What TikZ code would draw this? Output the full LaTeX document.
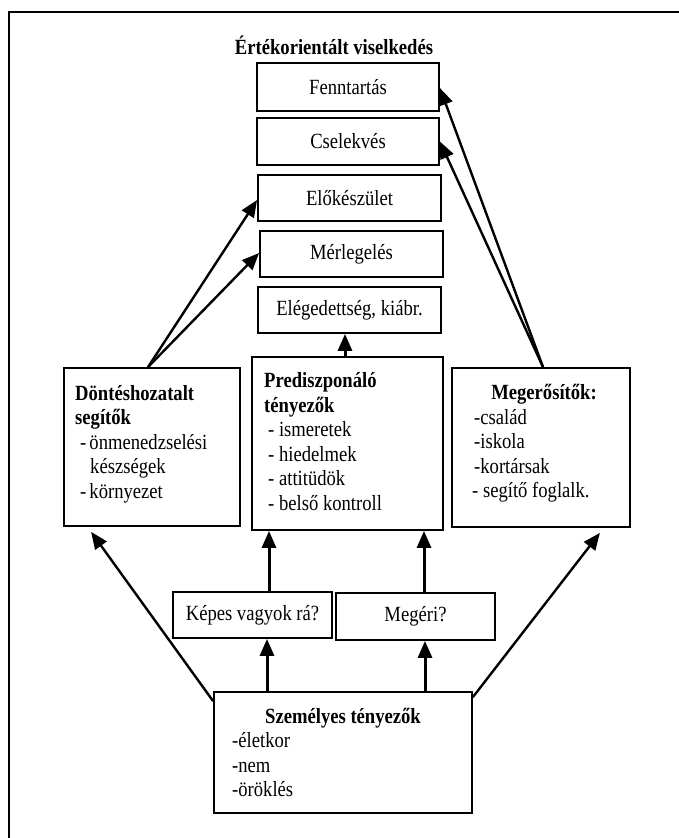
\documentclass[tikz,border=0pt]{standalone}
\usepackage{fontspec}
\usepackage{graphicx}
\setmainfont{Liberation Serif}
\usetikzlibrary{arrows.meta}
\newcommand{\tallt}[1]{\scalebox{0.98}[1.14]{#1}}
\begin{document}
\begin{tikzpicture}[x=1pt,y=-1pt,
  every node/.style={font=\fontsize{19}{24.5}\selectfont},
  bx/.style={draw,line width=1.8pt,inner sep=0pt},
  txt/.style={anchor=base west,inner sep=0pt},
  bld/.style={font=\fontsize{19}{24.5}\selectfont\bfseries},
  arr/.style={line width=3pt,-{Triangle[length=17pt,width=14pt]}},
  darr/.style={line width=2.4pt,-{Triangle[length=17pt,width=14pt]}}]
\useasboundingbox (0,0) rectangle (679,838);
\draw[line width=2pt] (9,838) -- (9,12) -- (679,12);

\node[inner sep=0pt,bld] (title) at (334,45) {\tallt{Értékorientált viselkedés}};

\node[bx,minimum width=182pt,minimum height=48pt] (fen) at (348,87) {\tallt{Fenntartás}};
\node[bx,minimum width=182pt,minimum height=47pt] (csel) at (348,141.5) {\tallt{Cselekvés}};
\node[bx,minimum width=183pt,minimum height=46pt] (elo) at (349.5,198) {\tallt{Előkészület}};
\node[bx,minimum width=183pt,minimum height=46pt] (mer) at (351.5,254) {\tallt{Mérlegelés}};
\node[bx,minimum width=183pt,minimum height=46pt] (eleg) at (349.5,310) {\tallt{Elégedettség, kiábr.}};

\node[bx,minimum width=176pt,minimum height=158pt] (dont) at (152,447) {};
\node[bx,minimum width=191pt,minimum height=173pt] (pred) at (347.5,443.5) {};
\node[bx,minimum width=178pt,minimum height=159pt] (meg) at (541,447.5) {};

\node[bx,minimum width=159pt,minimum height=46pt] (kep) at (252.5,615) {\tallt{Képes vagyok rá?}};
\node[bx,minimum width=159pt,minimum height=47pt] (megeri) at (415.5,616.5) {\tallt{Megéri?}};
\node[bx,minimum width=258pt,minimum height=121pt] (szem) at (343,752.5) {};

% texts in Döntéshozatalt box
\node[txt,bld] (d1) at (75,400) {\tallt{Döntéshozatalt}};
\node[txt,bld] (d2) at (75,424.5) {\tallt{segítők}};
\node[txt] (d3) at (80,449) {\tallt{-\,önmenedzselési}};
\node[txt] (d4) at (90,473.5) {\tallt{készségek}};
\node[txt] (d5) at (80,498) {\tallt{-\,környezet}};

% texts in Prediszponáló box
\node[txt,bld] (p1) at (264,387.5) {\tallt{Prediszponáló}};
\node[txt,bld] (p2) at (264,412) {\tallt{tényezők}};
\node[txt] (p3) at (268,436.5) {\tallt{- ismeretek}};
\node[txt] (p4) at (268,461) {\tallt{- hiedelmek}};
\node[txt] (p5) at (268,485.5) {\tallt{- attitüdök}};
\node[txt] (p6) at (268,510) {\tallt{- belső kontroll}};

% texts in Megerősítők box
\node[inner sep=0pt,anchor=base,bld] (m1) at (544,399) {\tallt{Megerősítők:}};
\node[txt] (m2) at (474,424) {\tallt{-család}};
\node[txt] (m3) at (474,448.5) {\tallt{-iskola}};
\node[txt] (m4) at (474,473) {\tallt{-kortársak}};
\node[txt] (m5) at (472,497.5) {\tallt{- segítő foglalk.}};

% texts in Személyes box
\node[inner sep=0pt,anchor=base,bld] (s1) at (343,723) {\tallt{Személyes tényezők}};
\node[txt] (s2) at (232,747.5) {\tallt{-életkor}};
\node[txt] (s3) at (232,772) {\tallt{-nem}};
\node[txt] (s4) at (232,796.5) {\tallt{-öröklés}};

% connectors
\coordinate (ax) at (345,0);
\coordinate (bx1) at (267,0);
\coordinate (bx2) at (269,0);
\coordinate (cx1) at (425,0);
\coordinate (cx2) at (424,0);

\draw[darr] ([xshift=-4pt]dont.north) -- ([yshift=-2pt]elo.west);
\draw[darr] ([xshift=-4pt]dont.north) -- ([yshift=1pt]mer.west);
\draw[darr] ([xshift=2pt]meg.north) -- ([yshift=-1pt]fen.east);
\draw[darr] ([xshift=2pt]meg.north) -- (csel.east);
\draw[arr] (pred.north -| ax) -- (eleg.south -| ax);
\draw[arr] (szem.north -| bx1) -- (kep.south -| bx1);
\draw[arr] (kep.north -| bx2) -- (pred.south -| bx2);
\draw[arr] (szem.north -| cx1) -- (megeri.south -| cx1);
\draw[arr] (megeri.north -| cx2) -- (pred.south -| cx2);
\draw[darr] ([yshift=-10pt]szem.north west) -- ([xshift=28pt,yshift=-5pt]dont.south west);
\draw[darr] ([yshift=-6pt]szem.north east) -- ([xshift=-31pt,yshift=-5pt]meg.south east);
\end{tikzpicture}
\end{document}
